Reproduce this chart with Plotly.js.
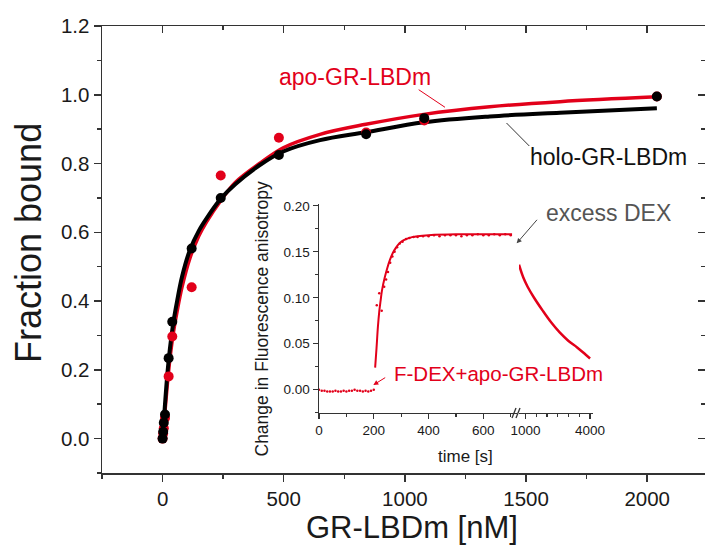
<!DOCTYPE html>
<html><head><meta charset="utf-8">
<script src="https://cdn.plot.ly/plotly-3.0.1.min.js"></script>
<style>html,body{margin:0;padding:0;background:#fff}#chart{width:705px;height:545px}</style>
</head><body><div id="chart"></div>
<script>
// ---------- main chart data ----------
const apoConc = [0, 2.5, 5, 10, 25, 40, 120, 240, 480, 840, 1080, 2040];
const apoFrac = [0.00, 0.015, 0.03, 0.06, 0.181, 0.297, 0.44, 0.765, 0.875, 0.89, 0.925, 0.995];
const holoConc = [0, 2.5, 5, 10, 25, 40, 120, 240, 480, 840, 1080, 2040];
const holoFrac = [0.00, 0.02, 0.046, 0.07, 0.234, 0.34, 0.553, 0.70, 0.825, 0.885, 0.932, 0.995];
const fitConc = [0, 10, 20, 30, 45, 60, 80, 113, 150, 181, 243, 300, 400, 498, 650, 839, 1078, 1350, 1640, 2040];
const holoFit = [0, 0.10, 0.19, 0.26, 0.34, 0.40, 0.47, 0.549, 0.605, 0.64, 0.70, 0.74, 0.795, 0.835, 0.868, 0.891, 0.92, 0.937, 0.948, 0.961];
const apoFit  = [0, 0.08, 0.16, 0.23, 0.31, 0.37, 0.44, 0.525, 0.59, 0.63, 0.695, 0.745, 0.80, 0.846, 0.885, 0.914, 0.943, 0.965, 0.980, 0.994];
const xTicks = [0, 500, 1000, 1500, 2000];
const yTicks = [0.0, 0.2, 0.4, 0.6, 0.8, 1.0, 1.2];

// ---------- inset data ----------
const dotTime = [0,10,20,30,40,50,60,70,80,90,100,110,120,130,140,150,160,170,180,190,200,
  211,220,229,238,245,252,260,268,276,285,295,305,318,330,345,360,380,400,420,440,460,480,500,520,540,560,580,600,620,640,660,680,700];
const dotAniso = [0.000,-0.001,-0.001,-0.002,-0.002,-0.002,-0.001,-0.002,-0.002,-0.001,-0.002,-0.001,-0.001,0.000,-0.001,-0.001,-0.002,-0.001,-0.002,-0.001,0.000,
  0.092,0.105,0.086,0.112,0.120,0.128,0.138,0.145,0.150,0.155,0.159,0.161,0.164,0.165,0.166,0.166,0.167,0.167,0.168,0.167,0.168,0.168,0.168,0.167,0.168,0.168,0.169,0.168,0.168,0.169,0.168,0.169,0.168];
const riseTime = [205,210,215,220,225,230,240,250,260,270,280,290,300,320,340,360,400,500,600,705];
const riseAniso = [0.024,0.045,0.068,0.085,0.097,0.108,0.122,0.133,0.142,0.149,0.154,0.158,0.161,0.164,0.166,0.167,0.168,0.169,0.169,0.169];
const decayTime = [700,900,1100,1400,1800,2200,2600,3000,3400,3800,4000];
const decayAniso = [0.136,0.122,0.112,0.100,0.086,0.073,0.062,0.053,0.046,0.038,0.034];
const insetYTicks = [0.00, 0.05, 0.10, 0.15, 0.20];
const insetXTicksA = [0, 200, 400, 600];
const insetXTicksB = [1000, 4000];

// ---------- geometry helpers (pixel -> paper) ----------
const W = 705, H = 545, ML = 102, MR = 0, MT = 26, MB = 72;
const PW = W - ML - MR, PH = H - MT - MB;
const PX = p => (p - ML) / PW;
const PY = p => (H - MB - p) / PH;

const RED = '#e2001a';
const FONT = 'Liberation Sans, Arial, sans-serif';
const AX = '#333';
const TXT = '#1a1a1a';

const traces = [
  {x: fitConc, y: apoFit, mode: 'lines', line: {color: RED, width: 3.5, shape: 'spline'}, xaxis: 'x', yaxis: 'y'},
  {x: fitConc, y: holoFit, mode: 'lines', line: {color: '#000', width: 4, shape: 'spline'}, xaxis: 'x', yaxis: 'y'},
  {x: apoConc, y: apoFrac, mode: 'markers', marker: {color: RED, size: 10}, xaxis: 'x', yaxis: 'y'},
  {x: holoConc, y: holoFrac, mode: 'markers', marker: {color: '#000', size: 10}, xaxis: 'x', yaxis: 'y'},
  {x: [], y: [], xaxis: 'x2', yaxis: 'y2', mode: 'markers'},
  // inset
  {x: dotTime, y: dotAniso, mode: 'markers', marker: {color: RED, size: 2.5}, xaxis: 'x3', yaxis: 'y3'},
  {x: riseTime, y: riseAniso, mode: 'lines', line: {color: RED, width: 2, shape: 'spline'}, xaxis: 'x3', yaxis: 'y3'},
  {x: decayTime, y: decayAniso, mode: 'lines', line: {color: RED, width: 2.5, shape: 'spline'}, xaxis: 'x4', yaxis: 'y3'}
];

const mainRangeX = [-250, -250 + PW / 121.15 * 500];
const mainRangeY = [-0.1, 1.2];

const insetX3Dom = [PX(319), PX(517)];
const insetX4Dom = [PX(519), PX(593.3)];
const insetYDom = [PY(412.7), PY(204)];

const tickCommon = {tickwidth: 1.5, tickcolor: AX, showline: true, linecolor: AX, linewidth: 1.5, showgrid: false, zeroline: false};

const ann = (text, cx, cy, size, color, extra) => Object.assign({
  text, xref: 'paper', yref: 'paper', x: PX(cx), y: PY(cy), xanchor: 'center', yanchor: 'middle',
  showarrow: false, font: {size, color, family: FONT}
}, extra || {});
const arrow = (hx, hy, ax, ay, color) => ({
  text: '', xref: 'paper', yref: 'paper', x: PX(hx), y: PY(hy), ax, ay, showarrow: true,
  arrowhead: 2, arrowsize: 1, arrowwidth: 1, arrowcolor: color
});

const layout = {
  width: W, height: H,
  margin: {l: ML, r: MR, t: MT, b: MB, pad: 0},
  paper_bgcolor: '#fff', plot_bgcolor: 'rgba(0,0,0,0)',
  showlegend: false,
  font: {family: FONT, color: TXT},
  xaxis: Object.assign({
    range: mainRangeX, tickvals: xTicks, ticktext: xTicks.map(String),
    ticks: 'outside', ticklen: 7,
    minor: {dtick: 250, tick0: 0, ticks: 'outside', ticklen: 4, tickwidth: 1.5, tickcolor: AX},
    tickfont: {size: 20.5, family: FONT, color: TXT}
  }, tickCommon),
  yaxis: Object.assign({
    range: mainRangeY, tickvals: yTicks, ticktext: yTicks.map(v => v.toFixed(1)),
    ticks: 'outside', ticklen: 7,
    minor: {dtick: 0.1, tick0: 0, ticks: 'outside', ticklen: 4, tickwidth: 1.5, tickcolor: AX},
    tickfont: {size: 20.5, family: FONT, color: TXT}
  }, tickCommon),
  xaxis2: Object.assign({
    overlaying: 'x', side: 'top', anchor: 'y', range: mainRangeX, tickvals: xTicks,
    showticklabels: false, ticks: 'inside', ticklen: 7,
    minor: {dtick: 250, tick0: 0, ticks: 'inside', ticklen: 4, tickwidth: 1.5, tickcolor: AX}
  }, tickCommon),
  yaxis2: Object.assign({}, tickCommon, {
    overlaying: 'y', side: 'right', anchor: 'x', range: mainRangeY, tickvals: yTicks,
    showticklabels: false, ticks: 'inside', ticklen: 7, showline: false,
    minor: {dtick: 0.1, tick0: 0, ticks: 'inside', ticklen: 4, tickwidth: 1.5, tickcolor: AX}
  }),
  xaxis3: Object.assign({
    domain: insetX3Dom, anchor: 'y3', range: [0, 723], tickvals: insetXTicksA, ticktext: insetXTicksA.map(String),
    ticks: 'outside', ticklen: 5,
    minor: {dtick: 100, tick0: 0, ticks: 'outside', ticklen: 3, tickwidth: 1.2, tickcolor: AX},
    tickfont: {size: 13.5, family: FONT, color: TXT}
  }, tickCommon, {tickwidth: 1.2}),
  xaxis4: Object.assign({
    domain: insetX4Dom, anchor: 'y3', range: [700, 4150], tickvals: insetXTicksB, ticktext: insetXTicksB.map(String),
    ticks: 'outside', ticklen: 5,
    minor: {dtick: 500, tick0: 0, ticks: 'outside', ticklen: 3, tickwidth: 1.2, tickcolor: AX},
    tickfont: {size: 13.5, family: FONT, color: TXT}
  }, tickCommon, {tickwidth: 1.2}),
  yaxis3: Object.assign({
    domain: insetYDom, anchor: 'x3', range: [-0.025, 0.202], tickvals: insetYTicks, ticktext: insetYTicks.map(v => v.toFixed(2)),
    ticks: 'outside', ticklen: 5,
    minor: {dtick: 0.025, tick0: 0, ticks: 'outside', ticklen: 3, tickwidth: 1.2, tickcolor: AX},
    tickfont: {size: 13.5, family: FONT, color: TXT}
  }, tickCommon, {tickwidth: 1.2}),
  shapes: [
    {type: 'line', xref: 'paper', yref: 'paper', x0: PX(512), y0: PY(418), x1: PX(516), y1: PY(408), line: {color: AX, width: 1.3}},
    {type: 'line', xref: 'paper', yref: 'paper', x0: PX(516), y0: PY(418), x1: PX(520), y1: PY(408), line: {color: AX, width: 1.3}},
    {type: 'line', xref: 'paper', yref: 'paper', x0: PX(418.7), y0: PY(89.7), x1: PX(445), y1: PY(107.3), line: {color: RED, width: 1}},
    {type: 'line', xref: 'paper', yref: 'paper', x0: PX(506.5), y0: PY(123), x1: PX(529.3), y1: PY(146), line: {color: '#333', width: 1}}
  ],
  annotations: [
    ann('apo-GR-LBDm', 354.6, 77, 23, RED),
    ann('holo-GR-LBDm', 608, 157, 23, '#111'),
    ann('excess DEX', 608, 213, 23, '#555'),
    ann('F-DEX+apo-GR-LBDm', 498.3, 373, 20.5, RED),
    arrow(516.7, 243.3, 21.6, -25, '#444'),
    arrow(373.3, 385, 13.4, -8.3, RED),
    ann('time [s]', 465, 456, 17, TXT),
    ann('Change in Fluorescence anisotropy', 261, 318.5, 17.5, TXT, {textangle: -90}),
    ann('GR-LBDm [nM]', 412, 527, 31, TXT),
    ann('Fraction bound', 28, 243, 36, TXT, {textangle: -90})
  ]
};

Plotly.newPlot('chart', traces, layout, {staticPlot: true, displayModeBar: false});
</script>
</body></html>
